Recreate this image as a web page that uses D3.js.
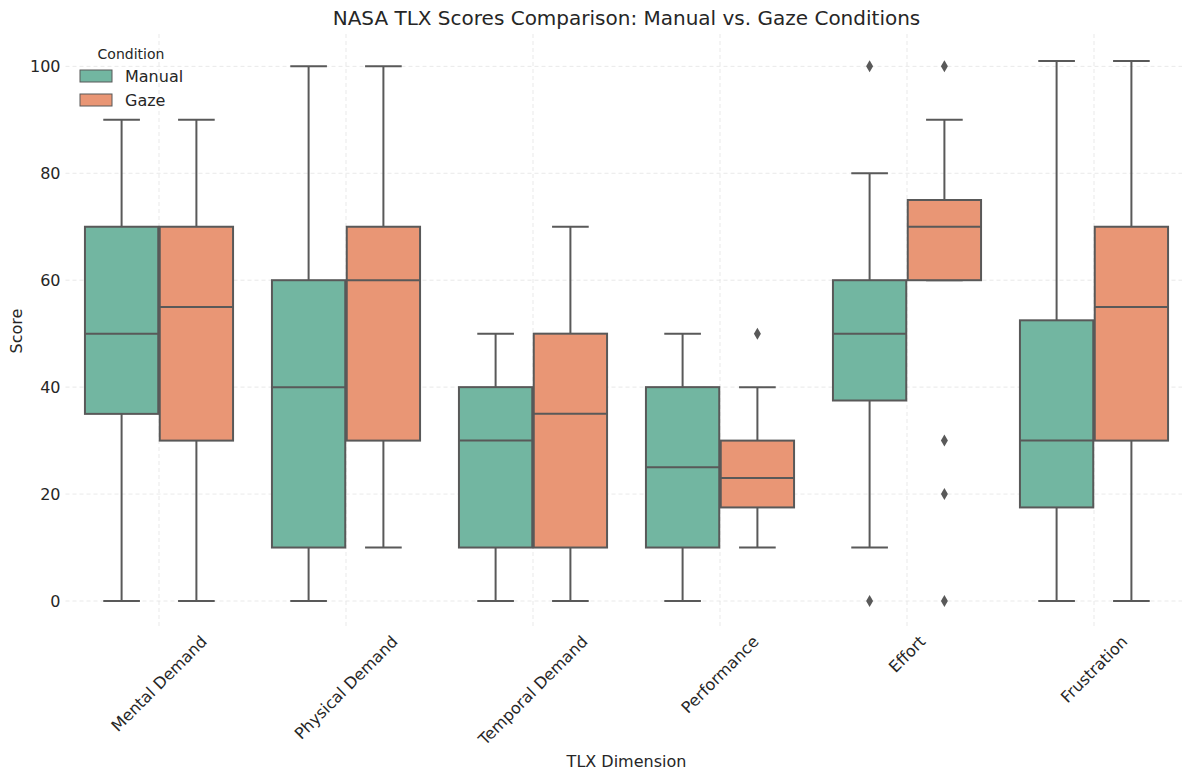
<!DOCTYPE html>
<html><head><meta charset="utf-8">
<script src="https://cdn.jsdelivr.net/npm/d3@7"></script>
<style>body{margin:0;background:#fff}svg{display:block;font-family:"DejaVu Sans",sans-serif}</style>
</head><body><svg id="c" width="1182" height="770"></svg>
<script>
const categories = ["Mental Demand","Physical Demand","Temporal Demand","Performance","Effort","Frustration"];
const conditions = ["Manual","Gaze"];
const colors = ["#72b6a1","#e99675"];
// per category: [whiskerLow, q1, median, q3, whiskerHigh]
const manualStats = [[0,35,50,70,90],[0,10,40,60,100],[0,10,30,40,50],[0,10,25,40,50],[10,37.5,50,60,80],[0,17.5,30,52.5,101]];
const gazeStats = [[0,30,55,70,90],[10,30,60,70,100],[0,10,35,50,70],[10,17.5,23,30,40],[60,60,70,75,90],[0,30,55,70,101]];
const manualOutliers = [[],[],[],[],[100,0],[]];
const gazeOutliers = [[],[],[],[50],[100,30,20,0],[]];
const yTicks = [0,20,40,60,80,100];

(function(){
const svg = d3.select("#c");
const pL = 65.5, pR = 1187.5, pT = 34, pB = 628;
const x = d3.scaleBand().domain(categories).range([pL,pR]).padding(0);
const y = d3.scaleLinear().domain([-5.05,106.05]).range([pB,pT]);
const sub = d3.scaleBand().domain(conditions).range([0,x.bandwidth()]).paddingOuter(0.25).paddingInner(0);
const ink = "#595959", txt = "#262626";

// grid
svg.append("g").selectAll("line").data(yTicks).join("line")
  .attr("x1",pL).attr("x2",pR).attr("y1",d=>y(d)).attr("y2",d=>y(d))
  .attr("stroke","#e3e3e3").attr("stroke-dasharray","4,3").attr("stroke-width",0.8);
svg.append("g").selectAll("line").data(categories).join("line")
  .attr("x1",d=>x(d)+x.bandwidth()/2).attr("x2",d=>x(d)+x.bandwidth()/2).attr("y1",pT).attr("y2",pB)
  .attr("stroke","#e3e3e3").attr("stroke-dasharray","4,3").attr("stroke-width",0.8);

const allStats = [manualStats, gazeStats];
const allOut = [manualOutliers, gazeOutliers];
const boxW = sub.bandwidth()*0.98;
categories.forEach((cat,i)=>{
  conditions.forEach((cond,j)=>{
    const s = allStats[j][i];
    const cx = x(cat) + sub(cond) + sub.bandwidth()/2;
    const g = svg.append("g");
    g.append("line").attr("x1",cx).attr("x2",cx).attr("y1",y(s[0])).attr("y2",y(s[1])).attr("stroke",ink).attr("stroke-width",2);
    g.append("line").attr("x1",cx).attr("x2",cx).attr("y1",y(s[3])).attr("y2",y(s[4])).attr("stroke",ink).attr("stroke-width",2);
    [s[0],s[4]].forEach(v=>g.append("line").attr("x1",cx-boxW/4).attr("x2",cx+boxW/4).attr("y1",y(v)).attr("y2",y(v)).attr("stroke",ink).attr("stroke-width",2));
    g.append("rect").attr("x",cx-boxW/2).attr("width",boxW).attr("y",y(s[3])).attr("height",y(s[1])-y(s[3]))
      .attr("fill",colors[j]).attr("stroke",ink).attr("stroke-width",2);
    g.append("line").attr("x1",cx-boxW/2).attr("x2",cx+boxW/2).attr("y1",y(s[2])).attr("y2",y(s[2])).attr("stroke",ink).attr("stroke-width",2);
    allOut[j][i].forEach(v=>{
      g.append("path").attr("d",`M${cx},${y(v)-6}L${cx+3.5},${y(v)}L${cx},${y(v)+6}L${cx-3.5},${y(v)}Z`).attr("fill",ink);
    });
  });
});

svg.append("g").selectAll("text").data(yTicks).join("text")
  .attr("x",pL-5).attr("y",d=>y(d)).attr("dy","0.35em").attr("text-anchor","end")
  .attr("font-size",16).attr("fill",txt).text(d=>d);

const xl = svg.append("g");
categories.forEach(c=>{
  const t = xl.append("text").attr("font-size",16).attr("fill",txt).attr("text-anchor","middle").attr("dy","0.35em").text(c);
  const L = t.node().getComputedTextLength();
  const h = 16;
  const half = (L+h)*Math.SQRT1_2/2;
  const cx = x(c)+x.bandwidth()/2, cy = 633+half;
  t.attr("x",cx).attr("y",cy).attr("transform",`rotate(-45,${cx},${cy})`);
});

svg.append("text").attr("x",(pL+pR)/2).attr("y",25).attr("text-anchor","middle").attr("font-size",20).attr("fill",txt)
  .text("NASA TLX Scores Comparison: Manual vs. Gaze Conditions");
svg.append("text").attr("x",(pL+pR)/2).attr("y",767).attr("text-anchor","middle").attr("font-size",16).attr("fill",txt).text("TLX Dimension");
svg.append("text").attr("transform",`translate(22,${(pT+pB)/2}) rotate(-90)`).attr("text-anchor","middle").attr("font-size",16).attr("fill",txt).text("Score");

const lg = svg.append("g");
lg.append("text").attr("x",131).attr("y",59).attr("text-anchor","middle").attr("font-size",14).attr("fill",txt).text("Condition");
conditions.forEach((c,j)=>{
  const yy = 70 + j*24;
  lg.append("rect").attr("x",80).attr("y",yy).attr("width",32).attr("height",12).attr("fill",colors[j]).attr("stroke",ink).attr("stroke-width",1);
  lg.append("text").attr("x",125).attr("y",yy+6).attr("dy","0.35em").attr("font-size",16).attr("fill",txt).text(c);
});
})();
</script></body></html>
